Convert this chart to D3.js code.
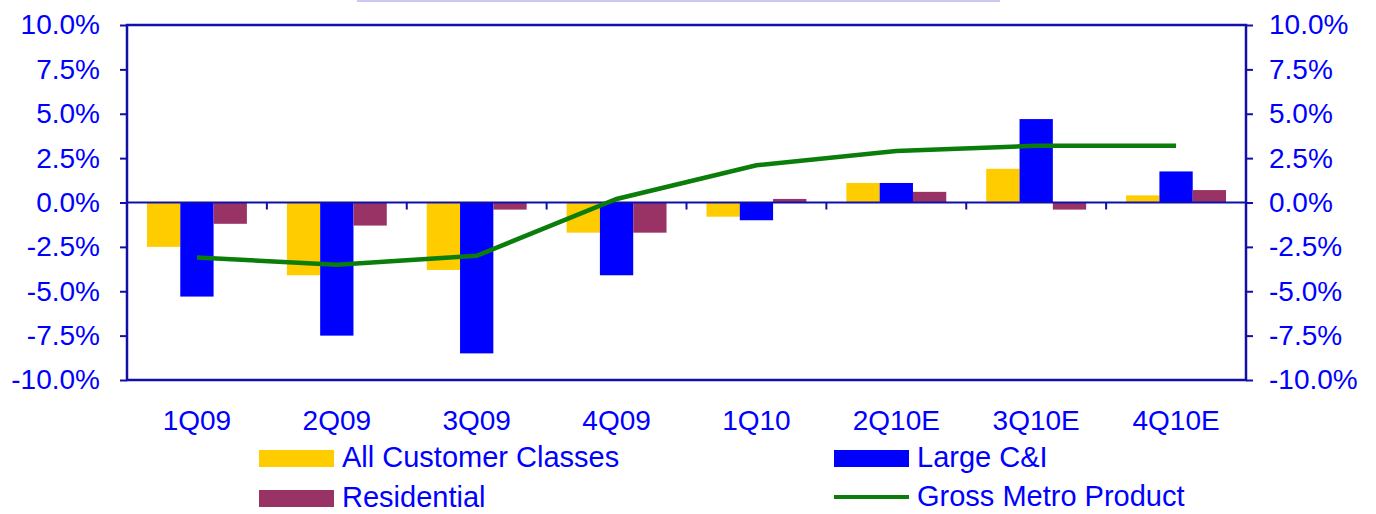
<!DOCTYPE html>
<html lang="en">
<head>
<meta charset="utf-8">
<title>Sales growth by customer class</title>
<script src="https://d3js.org/d3.v7.min.js"></script>
<style>
  body { margin: 0; background: #fff; font-family: "Liberation Sans", Arial, sans-serif; }
  svg text { fill: #0000ff; }
</style>
</head>
<body>
<div id="chart"></div>
<script>
// quarters on the x axis
var quarters = ["1Q09", "2Q09", "3Q09", "4Q09", "1Q10", "2Q10E", "3Q10E", "4Q10E"]
// series values, percent
var allClasses  = [-2.5, -4.1, -3.8, -1.7, -0.8, 1.1, 1.9, 0.4]
var largeCI     = [-5.3, -7.5, -8.5, -4.1, -1.0, 1.1, 4.7, 1.75]
var residential = [-1.2, -1.3, -0.4, -1.7, 0.2, 0.6, -0.4, 0.7]
var gmp         = [-3.1, -3.5, -3.0, 0.2, 2.1, 2.9, 3.2, 3.2]
var yTicks      = [-10, -7.5, -5, -2.5, 0, 2.5, 5, 7.5, 10]

var series = [
  {name: "All Customer Classes", values: allClasses, color: "#ffcc00"},
  {name: "Large C&I", values: largeCI, color: "#0000ff"},
  {name: "Residential", values: residential, color: "#993366"}
]

drawChart()

function drawChart(){
  var w = 1376, h = 514
  // note: "top" is a reserved window property, so plot edges get their own names
  var plotL = 127, plotR = 1246, plotT = 25, plotB = 380
  var axisColor = "#1010a8"

  var svg = d3.select("#chart").append("svg")
    .attr("width", w).attr("height", h)

  // faint strip at the very top
  svg.append("rect")
    .attr("x", 357).attr("y", 0).attr("width", 643).attr("height", 2)
    .attr("fill", "#c8c8f2")

  var x = d3.scaleBand().domain(quarters).range([plotL, plotR])
  var xs = d3.scaleBand().domain(d3.range(series.length))
    .range([0, x.bandwidth()]).paddingInner(0).paddingOuter(0.6)
  var y = d3.scaleLinear().domain([-10, 10]).range([plotB, plotT])

  // bars
  series.forEach(function(s, si){
    svg.append("g").selectAll("rect")
      .data(s.values)
      .enter().append("rect")
      .attr("x", function(d, i){ return x(quarters[i]) + xs(si) })
      .attr("width", xs.bandwidth())
      .attr("y", function(d){ return y(Math.max(0, d)) })
      .attr("height", function(d){ return Math.abs(y(d) - y(0)) })
      .attr("fill", s.color)
  })

  // plot frame
  svg.append("rect")
    .attr("x", plotL).attr("y", plotT)
    .attr("width", plotR - plotL).attr("height", plotB - plotT)
    .attr("fill", "none").attr("stroke", axisColor).attr("stroke-width", 2.5)

  var fmt = function(d){ return d.toFixed(1) + "%" }

  // left and right axes
  var yl = svg.append("g").attr("transform", "translate(" + plotL + ",0)")
    .call(d3.axisLeft(y).tickValues(yTicks).tickFormat(fmt).tickSize(7).tickPadding(20))
  var yr = svg.append("g").attr("transform", "translate(" + plotR + ",0)")
    .call(d3.axisRight(y).tickValues(yTicks).tickFormat(fmt).tickSize(7).tickPadding(16))
  ;[yl, yr].forEach(function(g){
    g.select(".domain").remove()
    g.selectAll("line").attr("stroke", axisColor).attr("stroke-width", 2)
    g.selectAll("text").attr("font-size", 28).attr("fill", "#0000ff")
      .attr("font-family", "Liberation Sans, Arial, sans-serif")
  })

  // zero line with category separators
  svg.append("line")
    .attr("x1", plotL).attr("x2", plotR).attr("y1", y(0)).attr("y2", y(0))
    .attr("stroke", axisColor).attr("stroke-width", 2)
  svg.append("g").selectAll("line")
    .data(quarters.slice(1))
    .enter().append("line")
    .attr("x1", function(d){ return x(d) }).attr("x2", function(d){ return x(d) })
    .attr("y1", y(0)).attr("y2", y(0) + 7)
    .attr("stroke", axisColor).attr("stroke-width", 2)

  // category labels
  svg.append("g").selectAll("text")
    .data(quarters)
    .enter().append("text")
    .attr("x", function(d){ return x(d) + x.bandwidth() / 2 })
    .attr("y", 430)
    .attr("text-anchor", "middle")
    .attr("font-size", 28)
    .text(function(d){ return d })

  // gross metro product line
  var line = d3.line()
    .x(function(d, i){ return x(quarters[i]) + x.bandwidth() / 2 })
    .y(function(d){ return y(d) })
  svg.append("path")
    .datum(gmp)
    .attr("d", line)
    .attr("fill", "none")
    .attr("stroke", "#0a7d0a")
    .attr("stroke-width", 4.5)

  // legend
  var legend = [
    {name: series[0].name, color: series[0].color, type: "bar", lx: 259, ly: 458},
    {name: series[1].name, color: series[1].color, type: "bar", lx: 834, ly: 458},
    {name: series[2].name, color: series[2].color, type: "bar", lx: 259, ly: 498},
    {name: "Gross Metro Product", color: "#0a7d0a", type: "line", lx: 834, ly: 497}
  ]
  var lg = svg.append("g").selectAll("g")
    .data(legend)
    .enter().append("g")
    .attr("transform", function(d){ return "translate(" + d.lx + "," + d.ly + ")" })
  lg.filter(function(d){ return d.type == "bar" })
    .append("rect")
    .attr("x", 0).attr("y", -8).attr("width", 75).attr("height", 17)
    .attr("fill", function(d){ return d.color })
  lg.filter(function(d){ return d.type == "line" })
    .append("line")
    .attr("x1", 0).attr("x2", 75).attr("y1", 0).attr("y2", 0)
    .attr("stroke", function(d){ return d.color }).attr("stroke-width", 4)
  lg.append("text")
    .attr("x", 83).attr("y", 9)
    .attr("font-size", 29)
    .text(function(d){ return d.name })
}
</script>
</body>
</html>
